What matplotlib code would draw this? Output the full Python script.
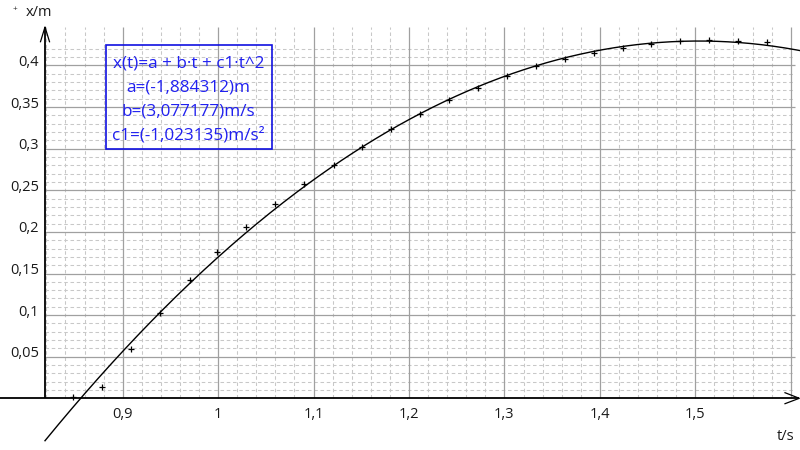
import numpy as np
import matplotlib
matplotlib.use("Agg")
import matplotlib.pyplot as plt
from matplotlib.patches import Rectangle

# ---- data ----
t_data = [0.848, 0.878, 0.909, 0.939, 0.970, 0.999, 1.029, 1.060, 1.090, 1.121,
          1.151, 1.181, 1.212, 1.242, 1.272, 1.303, 1.333, 1.364, 1.394, 1.424,
          1.454, 1.484, 1.514, 1.545, 1.575]
x_data = [0.001, 0.014, 0.059, 0.102, 0.142, 0.176, 0.206, 0.234, 0.258, 0.281,
          0.302, 0.324, 0.342, 0.359, 0.373, 0.387, 0.399, 0.408, 0.415, 0.421,
          0.426, 0.430, 0.431, 0.429, 0.428]

# fit parameters shown in the box
a_fit = -1.884312
b_fit = 3.077177
c1_fit = -1.023135

x_major = [0.9, 1.0, 1.1, 1.2, 1.3, 1.4, 1.5, 1.6]
x_labels = ["0,9", "1", "1,1", "1,2", "1,3", "1,4", "1,5"]
x_minor = list(np.round(np.arange(0.82, 1.60, 0.02), 3))
y_major = [0.05, 0.1, 0.15, 0.2, 0.25, 0.3, 0.35, 0.4]
y_labels = ["0,05", "0,1", "0,15", "0,2", "0,25", "0,3", "0,35", "0,4"]
y_minor = list(np.round(np.arange(0.01, 0.425, 0.01), 3))

box_lines = ["x(t)=a + b·t + c1·t^2", "a=(-1,884312)m", "b=(3,077177)m/s",
             "c1=(-1,023135)m/s²"]

# ---- layout ----
W, H = 800, 450
plt.rcParams['font.family'] = ['Open Sans', 'DejaVu Sans']
fig = plt.figure(figsize=(8, 4.5), dpi=100)
ax = fig.add_axes([0, 0, 1, 1])
ax.set_axis_off()

px_per_t = 954.3
px_per_v = 832.0
x0_px, y0_px = 122.7, 398.3   # pixel of t=0.9 and x=0
def t_of(px):
    return 0.9 + (px - x0_px) / px_per_t
def v_of(py):
    return (y0_px - py) / px_per_v

ax.set_xlim(t_of(0), t_of(W))
ax.set_ylim(v_of(H), v_of(0))

t_axis = t_of(45)        # vertical axis position
v_top = v_of(27)         # top of grid / arrow
t_right = t_of(795)

grid_major = '#a0a0a0'
grid_minor = '#c8c8c8'
dash = (0, (3.4, 2.6))
# vertical grid
ax.vlines([m for m in x_minor if all(abs(m - M) > 1e-6 for M in x_major)], 0, v_top,
          colors=grid_minor, linewidth=0.75, linestyles=dash, zorder=1)
ax.vlines(x_major, 0, v_top, colors=grid_major, linewidth=0.9, zorder=1.5)
# horizontal grid
ax.hlines([m for m in y_minor if all(abs(m - M) > 1e-6 for M in y_major)], t_axis, t_right,
          colors=grid_minor, linewidth=0.75, linestyles=dash, zorder=1)
ax.hlines(y_major, t_axis, t_right, colors=grid_major, linewidth=0.9, zorder=1.5)

# axes lines
ax.plot([t_of(0), t_of(799)], [0, 0], color='black', lw=1.3, zorder=3, solid_capstyle='butt')
ax.plot([t_axis, t_axis], [0, v_top], color='black', lw=1.3, zorder=3, solid_capstyle='butt')
# arrowheads
ax.plot([t_of(40.5), t_axis, t_of(49.5)], [v_of(41.7), v_top, v_of(41.7)], color='black', lw=0.9, zorder=3)
ax.plot([t_of(785), t_of(799.3), t_of(785)], [v_of(392.7), 0, v_of(403.7)], color='black', lw=0.9, zorder=3)

# fit curve
tt = np.linspace(t_axis, t_of(800), 400)
ax.plot(tt, a_fit + b_fit * tt + c1_fit * tt**2, color='black', lw=1.0, zorder=4)

# data points
ax.plot(t_data, x_data, linestyle='none', marker='+', color='black', ms=5, mew=0.9, zorder=5)

# tick labels
lab_col = '#1a1a1a'
for v, s in zip(x_major, x_labels):
    ax.annotate(s, (v, 0), xytext=(0, -16), textcoords='offset pixels', ha='center', va='center',
                fontsize=10.5, color=lab_col)
for v, s in zip(y_major, y_labels):
    ax.annotate(s, (t_axis, v), xytext=(-6, 3), textcoords='offset pixels', ha='right', va='center',
                fontsize=10.5, color=lab_col)

# axis titles
fig.text(38.5 / W, 1 - 13 / H, "x/m", ha='center', va='center', fontsize=10.5, color=lab_col)
fig.text(14.7 / W, 1 - 10 / H, "+", ha='center', va='center', fontsize=6, color=lab_col)
fig.text(786 / W, 1 - 436 / H, "t/s", ha='center', va='center', fontsize=10.5, color=lab_col)

# fit box (transparent)
blue = '#2020f0'
fig.patches.append(Rectangle((106.3 / W, 1 - 149 / H), (271.7 - 106.3) / W, (149 - 45) / H,
                             transform=fig.transFigure, fill=False,
                             edgecolor='#1010e0', linewidth=1.2, zorder=6))
for i, s in enumerate(box_lines):
    fig.text(188.5 / W, 1 - (63.5 + 24 * i) / H, s, ha='center', va='center', fontsize=12.3,
             color=blue, zorder=7)

fig.savefig("out.png", dpi=100)
